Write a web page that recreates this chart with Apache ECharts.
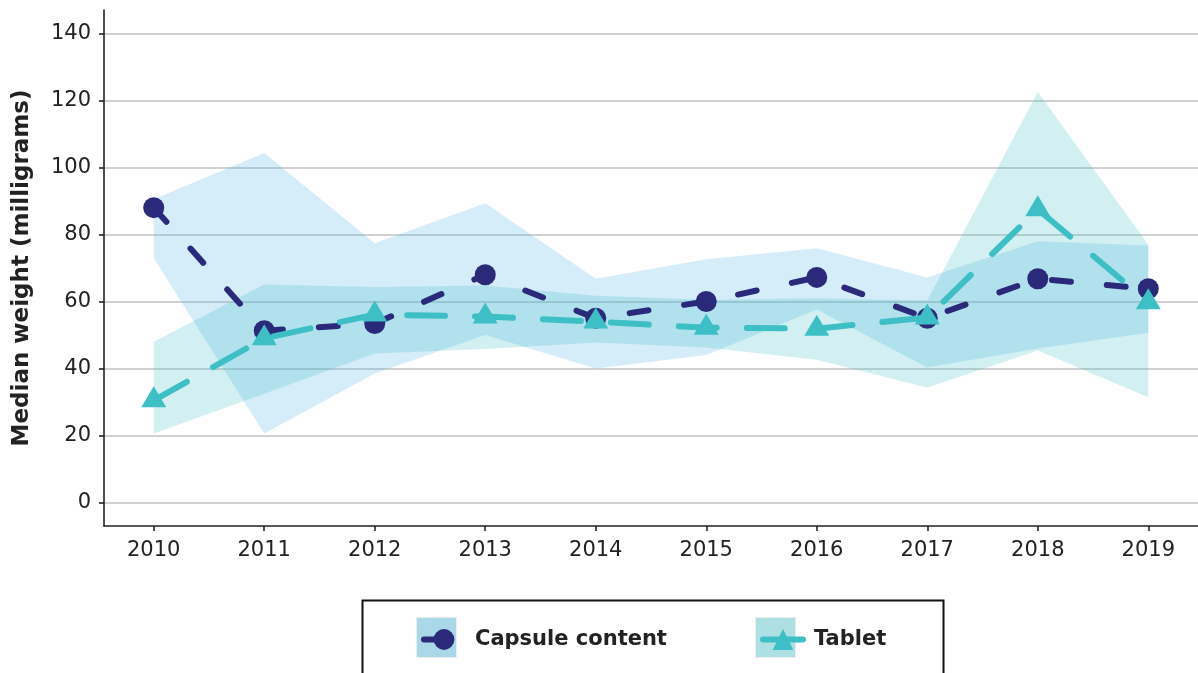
<!DOCTYPE html>
<html>
<head>
<meta charset="utf-8">
<script src="https://cdn.jsdelivr.net/npm/echarts/dist/echarts.min.js"></script>
<style>
  html, body { margin: 0; padding: 0; background: #fff; }
  #chart { width: 1198px; height: 673px; }
</style>
</head>
<body>
<div id="chart"></div>
<script>
// data (milligrams)
const years = [2010, 2011, 2012, 2013, 2014, 2015, 2016, 2017, 2018, 2019]
const yTicks = [0, 20, 40, 60, 80, 100, 120, 140]

const capsuleMedian = [88, 51.3, 53.4, 68, 55, 60, 67.2, 55, 66.8, 63.8]
const capsuleLow = [73, 20.6, 38.5, 50, 40, 44, 57.6, 40.3, 46, 50.7]
const capsuleHigh = [90.5, 104.3, 77.4, 89.3, 66.8, 72.6, 75.9, 67.2, 78, 76.7]

const tabletMedian = [30.5, 49, 56.1, 55.5, 54, 52.2, 51.9, 55.2, 87.5, 59.8]
const tabletLow = [20.6, 32.5, 44.5, 45.8, 47.8, 46.3, 42.6, 34.3, 45.4, 31.4]
const tabletHigh = [48, 65.1, 64.3, 64.8, 61.7, 60.5, 61, 60.3, 122.5, 77]

const navy = '#2b2a7a'
const teal = '#3dbfc5'
const font = 'DejaVu Sans'

const pts = ys => years.map((y, i) => [y, ys[i]])

// one polygon per ribbon, drawn when the first item is rendered
function ribbon(lo, hi, fill) {
  return {
    type: 'custom',
    data: years.map((y, i) => [y, lo[i], hi[i]]),
    encode: { x: 0, y: [1, 2] },
    silent: true,
    z: 1,
    renderItem: (params, api) => {
      if (params.dataIndexInside !== 0) return null
      const top = [], bottom = []
      for (let i = 0; i < params.dataInsideLength; i++) {
        top.push(api.coord([api.value(0, i), api.value(2, i)]))
        bottom.push(api.coord([api.value(0, i), api.value(1, i)]))
      }
      return {
        type: 'polygon',
        shape: { points: top.concat(bottom.reverse()) },
        style: { fill: fill }
      }
    }
  }
}

const chart = echarts.init(document.getElementById('chart'))

chart.setOption({
  animation: false,
  grid: { left: 104, top: 10, width: 1098, height: 516 },
  xAxis: {
    type: 'value',
    min: 2009.55,
    max: 2019.45,
    axisLine: { show: true, onZero: false, lineStyle: { color: '#222', width: 1.6 } },
    axisTick: { show: true, customValues: years, length: 5, lineStyle: { color: '#222', width: 1.6 } },
    axisLabel: { customValues: years, formatter: v => String(v), fontFamily: font, fontSize: 21, color: '#222', margin: 14 },
    splitLine: { show: false }
  },
  yAxis: {
    type: 'value',
    min: -7,
    max: 147,
    name: 'Median weight (milligrams)',
    nameLocation: 'middle',
    nameGap: 70,
    nameTextStyle: { fontFamily: font, fontWeight: 'bold', fontSize: 23, color: '#222' },
    axisLine: { show: true, onZero: false, lineStyle: { color: '#222', width: 1.6 } },
    axisTick: { show: true, customValues: yTicks, length: 5, lineStyle: { color: '#222', width: 1.6 } },
    axisLabel: { customValues: yTicks, fontFamily: font, fontSize: 21, color: '#222', margin: 13 },
    splitLine: { show: true, lineStyle: { color: '#c2c2c2', width: 1.6 } }
  },
  legend: [{
    data: ['Capsule content'],
    left: 416, top: 624,
    itemWidth: 40, itemHeight: 26,
    selectedMode: false,
    lineStyle: { type: [13, 40], width: 6 },
    textStyle: { fontFamily: font, fontWeight: 'bold', fontSize: 21, color: '#222', padding: [0, 0, 0, 6] }
  }, {
    data: ['Tablet'],
    left: 755, top: 624,
    itemWidth: 40, itemHeight: 26,
    selectedMode: false,
    lineStyle: { type: 'solid', width: 6 },
    textStyle: { fontFamily: font, fontWeight: 'bold', fontSize: 21, color: '#222', padding: [0, 0, 0, 6] }
  }],
  graphic: [
    { type: 'rect', left: 360, top: 598, z: 1, shape: { width: 581, height: 100 }, style: { fill: 'none', stroke: '#111', lineWidth: 2 } },
    { type: 'rect', left: 416, top: 617, z: 1, shape: { width: 40, height: 40 }, style: { fill: '#a9d8e8', stroke: '#ededed', lineWidth: 1 } },
    { type: 'rect', left: 755, top: 617, z: 1, shape: { width: 40, height: 40 }, style: { fill: '#aedfe3', stroke: '#ededed', lineWidth: 1 } }
  ],
  series: [
    ribbon(capsuleLow, capsuleHigh, 'rgba(86,180,233,0.25)'),
    ribbon(tabletLow, tabletHigh, 'rgba(61,191,197,0.23)'),
    {
      name: 'Capsule content',
      type: 'line',
      data: pts(capsuleMedian),
      symbol: 'circle',
      symbolSize: 21,
      itemStyle: { color: navy },
      lineStyle: { color: navy, width: 6, type: [19, 36], cap: 'round', join: 'round' },
      z: 3
    },
    {
      name: 'Tablet',
      type: 'line',
      data: pts(tabletMedian),
      symbol: 'triangle',
      symbolSize: [25, 21],
      symbolOffset: [0, -3.5],
      itemStyle: { color: teal },
      lineStyle: { color: teal, width: 6, type: [38, 30], cap: 'round', join: 'round' },
      z: 4
    }
  ]
})
</script>
</body>
</html>
